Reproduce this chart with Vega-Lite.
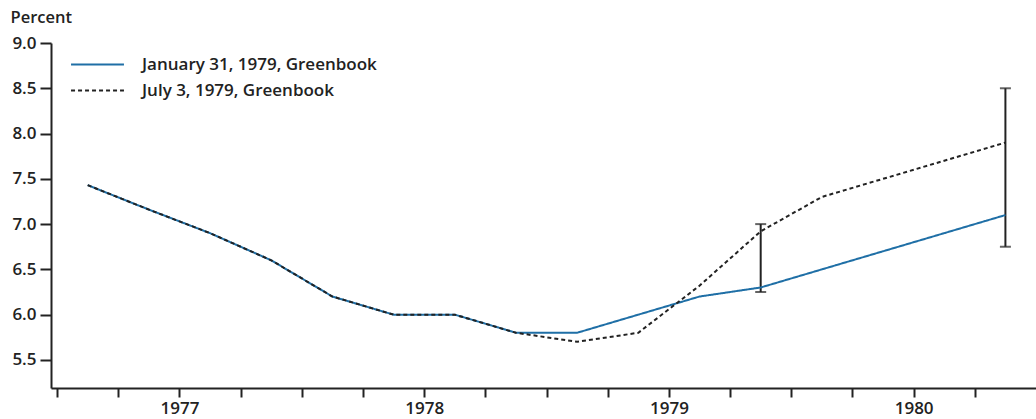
{
  "$schema": "https://vega.github.io/schema/vega-lite/v6.json",
  "width": 985,
  "height": 345,
  "autosize": {"type": "none"},
  "padding": {"left": 51, "top": 43, "right": 0, "bottom": 31},
  "background": "white",
  "config": {
    "view": {"stroke": null},
    "font": "Open Sans",
    "axis": {"grid": false, "domainColor": "#222", "domainWidth": 2, "tickColor": "#222", "tickWidth": 2, "labelColor": "#222", "labelFont": "Open Sans", "labelFontWeight": 600, "titleColor": "#222", "titleFont": "Open Sans", "titleFontWeight": 600}
  },
  "datasets": {
    "lines": [
      {"t": 1977.125, "series": "January 31, 1979, Greenbook", "value": 7.43},
      {"t": 1977.375, "series": "January 31, 1979, Greenbook", "value": 7.16},
      {"t": 1977.625, "series": "January 31, 1979, Greenbook", "value": 6.9},
      {"t": 1977.875, "series": "January 31, 1979, Greenbook", "value": 6.6},
      {"t": 1978.125, "series": "January 31, 1979, Greenbook", "value": 6.2},
      {"t": 1978.375, "series": "January 31, 1979, Greenbook", "value": 6.0},
      {"t": 1978.625, "series": "January 31, 1979, Greenbook", "value": 6.0},
      {"t": 1978.875, "series": "January 31, 1979, Greenbook", "value": 5.8},
      {"t": 1979.125, "series": "January 31, 1979, Greenbook", "value": 5.8},
      {"t": 1979.375, "series": "January 31, 1979, Greenbook", "value": 6.0},
      {"t": 1979.625, "series": "January 31, 1979, Greenbook", "value": 6.2},
      {"t": 1979.875, "series": "January 31, 1979, Greenbook", "value": 6.3},
      {"t": 1980.125, "series": "January 31, 1979, Greenbook", "value": 6.5},
      {"t": 1980.375, "series": "January 31, 1979, Greenbook", "value": 6.7},
      {"t": 1980.625, "series": "January 31, 1979, Greenbook", "value": 6.9},
      {"t": 1980.875, "series": "January 31, 1979, Greenbook", "value": 7.1},
      {"t": 1977.125, "series": "July 3, 1979, Greenbook", "value": 7.43},
      {"t": 1977.375, "series": "July 3, 1979, Greenbook", "value": 7.16},
      {"t": 1977.625, "series": "July 3, 1979, Greenbook", "value": 6.9},
      {"t": 1977.875, "series": "July 3, 1979, Greenbook", "value": 6.6},
      {"t": 1978.125, "series": "July 3, 1979, Greenbook", "value": 6.2},
      {"t": 1978.375, "series": "July 3, 1979, Greenbook", "value": 6.0},
      {"t": 1978.625, "series": "July 3, 1979, Greenbook", "value": 6.0},
      {"t": 1978.875, "series": "July 3, 1979, Greenbook", "value": 5.8},
      {"t": 1979.125, "series": "July 3, 1979, Greenbook", "value": 5.7},
      {"t": 1979.375, "series": "July 3, 1979, Greenbook", "value": 5.8},
      {"t": 1979.625, "series": "July 3, 1979, Greenbook", "value": 6.32},
      {"t": 1979.875, "series": "July 3, 1979, Greenbook", "value": 6.92},
      {"t": 1980.125, "series": "July 3, 1979, Greenbook", "value": 7.3},
      {"t": 1980.375, "series": "July 3, 1979, Greenbook", "value": 7.5},
      {"t": 1980.625, "series": "July 3, 1979, Greenbook", "value": 7.7},
      {"t": 1980.875, "series": "July 3, 1979, Greenbook", "value": 7.9}
    ],
    "bars": [
      {"t": 1979.875, "lo": 6.25, "hi": 7.0},
      {"t": 1980.875, "lo": 6.75, "hi": 8.5}
    ]
  },
  "layer": [
    {
      "data": {"name": "bars"},
      "mark": {"type": "rule", "color": "#222", "strokeWidth": 2},
      "encoding": {
        "x": {"field": "t", "type": "quantitative", "scale": {"domain": [1976.975, 1981], "nice": false, "zero": false}},
        "y": {"field": "lo", "type": "quantitative", "scale": {"domain": [5.19, 9.0], "nice": false, "zero": false}},
        "y2": {"field": "hi"}
      }
    },
    {
      "data": {"name": "bars"},
      "mark": {"type": "tick", "orient": "horizontal", "color": "#222", "size": 11, "thickness": 2},
      "encoding": {
        "x": {"field": "t", "type": "quantitative"},
        "y": {"field": "lo", "type": "quantitative"}
      }
    },
    {
      "data": {"name": "bars"},
      "mark": {"type": "tick", "orient": "horizontal", "color": "#222", "size": 11, "thickness": 2},
      "encoding": {
        "x": {"field": "t", "type": "quantitative"},
        "y": {"field": "hi", "type": "quantitative"}
      }
    },
    {
      "data": {"name": "lines"},
      "mark": {"type": "line", "strokeWidth": 2},
      "encoding": {
        "x": {
          "field": "t", "type": "quantitative",
          "axis": {
            "title": null,
            "values": [1977, 1977.25, 1977.5, 1977.75, 1978, 1978.25, 1978.5, 1978.75, 1979, 1979.25, 1979.5, 1979.75, 1980, 1980.25, 1980.5, 1980.75],
            "labelExpr": "datum.value % 1 == 0.5 ? toString(floor(datum.value)) : ''",
            "labelOverlap": false,
            "labelFlush": false,
            "labelBound": false,
            "tickSize": 9,
            "labelPadding": 3,
            "labelFontSize": 17
          }
        },
        "y": {
          "field": "value", "type": "quantitative",
          "axis": {
            "title": "Percent",
            "titleAngle": 0,
            "titleAlign": "left",
            "titleBaseline": "alphabetic",
            "titleX": -41,
            "titleY": -21,
            "titleFontSize": 16.5,
            "values": [5.5, 6.0, 6.5, 7.0, 7.5, 8.0, 8.5, 9.0],
            "format": ".1f",
            "tickSize": 11,
            "labelPadding": 4,
            "labelFontSize": 17
          }
        },
        "color": {
          "field": "series", "type": "nominal",
          "scale": {"domain": ["January 31, 1979, Greenbook", "July 3, 1979, Greenbook"], "range": ["#1f6fa6", "#222222"]},
          "legend": {
            "title": null,
            "orient": "none",
            "legendX": 38,
            "legendY": 13,
            "padding": 0,
            "symbolType": "M-5,0H5",
            "symbolSize": 112,
            "symbolStrokeWidth": 2,
            "labelOffset": 36,
            "labelFont": "Open Sans",
            "labelFontWeight": 600,
            "labelFontSize": 17,
            "labelColor": "#222",
            "labelLimit": 500,
            "rowPadding": 8
          }
        },
        "strokeDash": {
          "field": "series", "type": "nominal",
          "scale": {"domain": ["January 31, 1979, Greenbook", "July 3, 1979, Greenbook"], "range": [[1, 0], [4, 3]]},
          "legend": null
        }
      }
    }
  ]
}
